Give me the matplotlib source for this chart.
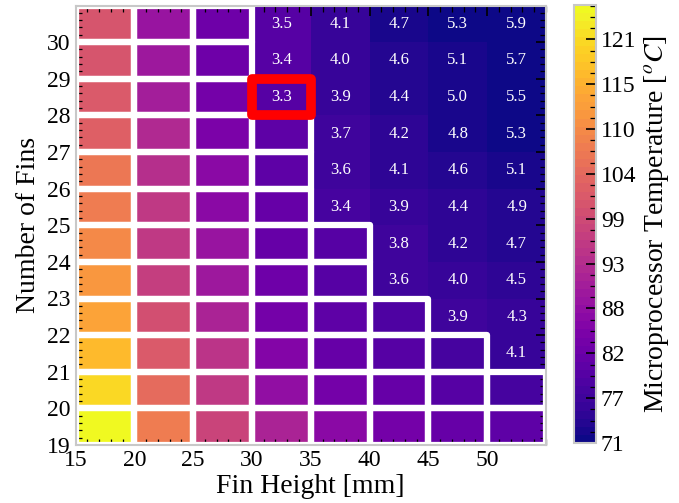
import numpy as np
import matplotlib
matplotlib.use("Agg")
import matplotlib.pyplot as plt
from matplotlib.patches import Rectangle
from matplotlib.collections import PatchCollection
from matplotlib.ticker import AutoMinorLocator

plt.rcParams['font.family'] = ['Liberation Serif', 'DejaVu Serif']
plt.rcParams['mathtext.fontset'] = 'stix'

# ---- data ----
fin_heights = [15, 20, 25, 30, 35, 40, 45, 50]      # mm, left edge of each cell
cell_width = 5
fin_counts = [19, 20, 21, 22, 23, 24, 25, 26, 27, 28, 29, 30]

temp_19 = [124.7, 107.3, 98.1, 91.6, 86.7, 84.0, 81.8, 80.2]
temp_20 = [120.9, 105.1, 95.9, 87.8, 84.0, 81.3, 79.7, 78.0]
temp_21 = [116.5, 101.4, 94.3, 85.6, 81.8, 79.7, 78.0, 75.9]
temp_22 = [113.8, 99.7, 91.1, 84.0, 80.8, 78.3, 76.4, 75.3]
temp_23 = [111.7, 97.0, 89.4, 82.9, 79.7, 77.0, 75.6, 74.3]
temp_24 = [110.0, 95.9, 88.3, 81.8, 79.1, 76.4, 74.8, 73.7]
temp_25 = [107.9, 95.4, 86.7, 81.3, 77.5, 75.6, 74.3, 73.2]
temp_26 = [106.8, 93.2, 86.2, 80.8, 77.0, 74.8, 73.7, 72.6]
temp_27 = [103.0, 92.1, 84.6, 80.2, 76.4, 74.3, 72.9, 71.8]
temp_28 = [101.4, 90.5, 83.7, 79.7, 75.9, 73.7, 72.6, 71.5]
temp_29 = [100.5, 89.4, 82.9, 79.4, 75.6, 73.4, 72.1, 71.3]
temp_30 = [100.3, 88.3, 82.4, 79.1, 75.3, 72.6, 71.3, 71.0]

nan = np.nan
mass_19 = [nan, nan, nan, nan, nan, nan, nan, nan]
mass_20 = [nan, nan, nan, nan, nan, nan, nan, nan]
mass_21 = [nan, nan, nan, nan, nan, nan, nan, 4.1]
mass_22 = [nan, nan, nan, nan, nan, nan, 3.9, 4.3]
mass_23 = [nan, nan, nan, nan, nan, 3.6, 4.0, 4.5]
mass_24 = [nan, nan, nan, nan, nan, 3.8, 4.2, 4.7]
mass_25 = [nan, nan, nan, nan, 3.4, 3.9, 4.4, 4.9]
mass_26 = [nan, nan, nan, nan, 3.6, 4.1, 4.6, 5.1]
mass_27 = [nan, nan, nan, nan, 3.7, 4.2, 4.8, 5.3]
mass_28 = [nan, nan, nan, 3.3, 3.9, 4.4, 5.0, 5.5]
mass_29 = [nan, nan, nan, 3.4, 4.0, 4.6, 5.1, 5.7]
mass_30 = [nan, nan, nan, 3.5, 4.1, 4.7, 5.3, 5.9]

cbar_tick_values = [71.0, 76.55, 82.1, 87.65, 93.2, 98.75, 104.3, 109.85, 115.4, 120.95]
cbar_tick_labels = ['71', '77', '82', '88', '93', '99', '104', '110', '115', '121']
t_min, t_max = 71.0, 125.2

# ---- build arrays ----
temps = np.array([temp_19, temp_20, temp_21, temp_22, temp_23, temp_24,
                  temp_25, temp_26, temp_27, temp_28, temp_29, temp_30])
mass = np.array([mass_19, mass_20, mass_21, mass_22, mass_23, mass_24,
                 mass_25, mass_26, mass_27, mass_28, mass_29, mass_30])
x_edges = np.array(fin_heights + [fin_heights[-1] + cell_width])
y_edges = np.array(fin_counts + [fin_counts[-1] + 1])

fig = plt.figure(figsize=(6.79, 5.03), dpi=100)
ax = fig.add_axes([75.5 / 679, 58 / 503, (546 - 75.5) / 679, (445 - 5.5) / 503])
cax = fig.add_axes([574 / 679, 60 / 503, 22 / 679, 438 / 503])

cmap = matplotlib.colormaps['plasma'].resampled(54)
mesh = ax.pcolormesh(x_edges, y_edges, temps, cmap=cmap, vmin=t_min, vmax=t_max,
                     shading='flat', zorder=1)

# white outlines on infeasible cells
rects = []
for i, nf in enumerate(fin_counts):
    for j, h in enumerate(fin_heights):
        if np.isnan(mass[i, j]):
            rects.append(Rectangle((h, nf), cell_width, 1))
pc = PatchCollection(rects, facecolor='none', edgecolor='white', linewidth=4.5,
                     zorder=2, clip_on=True)
ax.add_collection(pc)

# annotations in feasible cells
for i, nf in enumerate(fin_counts):
    for j, h in enumerate(fin_heights):
        if not np.isnan(mass[i, j]):
            ax.text(h + cell_width / 2, nf + 0.5, f"{mass[i, j]:.1f}",
                    ha='center', va='center', color='white', fontsize=12, zorder=3)

# highlight lightest design
imin = np.unravel_index(np.nanargmin(mass), mass.shape)
hl = Rectangle((fin_heights[imin[1]], fin_counts[imin[0]]), cell_width, 1,
               facecolor='none', edgecolor='red', linewidth=7, joinstyle='round', zorder=4)
ax.add_patch(hl)

ax.set_xlim(x_edges[0], x_edges[-1])
ax.set_ylim(y_edges[0], y_edges[-1])
ax.set_xticks(fin_heights)
ax.set_yticks(fin_counts)
ax.xaxis.set_minor_locator(AutoMinorLocator(5))
ax.yaxis.set_minor_locator(AutoMinorLocator(5))
ax.tick_params(which='both', direction='in', top=True, right=True, labelsize=17, color='black')
ax.tick_params(which='major', length=7, width=1.2)
ax.tick_params(which='minor', length=4, width=0.9)
for s in ax.spines.values():
    s.set_color('#c8c8c8')
    s.set_linewidth(1.5)
ax.set_xlabel('Fin Height [mm]', fontsize=20, labelpad=2)
ax.set_ylabel('Number of Fins', fontsize=20, labelpad=4)

cb = fig.colorbar(mesh, cax=cax)
cb.set_ticks(cbar_tick_values)
cb.set_ticklabels(cbar_tick_labels)
cax.yaxis.set_minor_locator(AutoMinorLocator(4))
cax.tick_params(which='both', direction='in', labelsize=17, color='black')
cax.tick_params(which='major', length=7, width=1.2)
cax.tick_params(which='minor', length=4, width=0.9)
cb.outline.set_edgecolor('#c8c8c8')
cb.outline.set_linewidth(1.5)
cb.set_label('Microprocessor Temperature [$^oC$]', fontsize=20, labelpad=4)

fig.savefig('out.png', dpi=100)
